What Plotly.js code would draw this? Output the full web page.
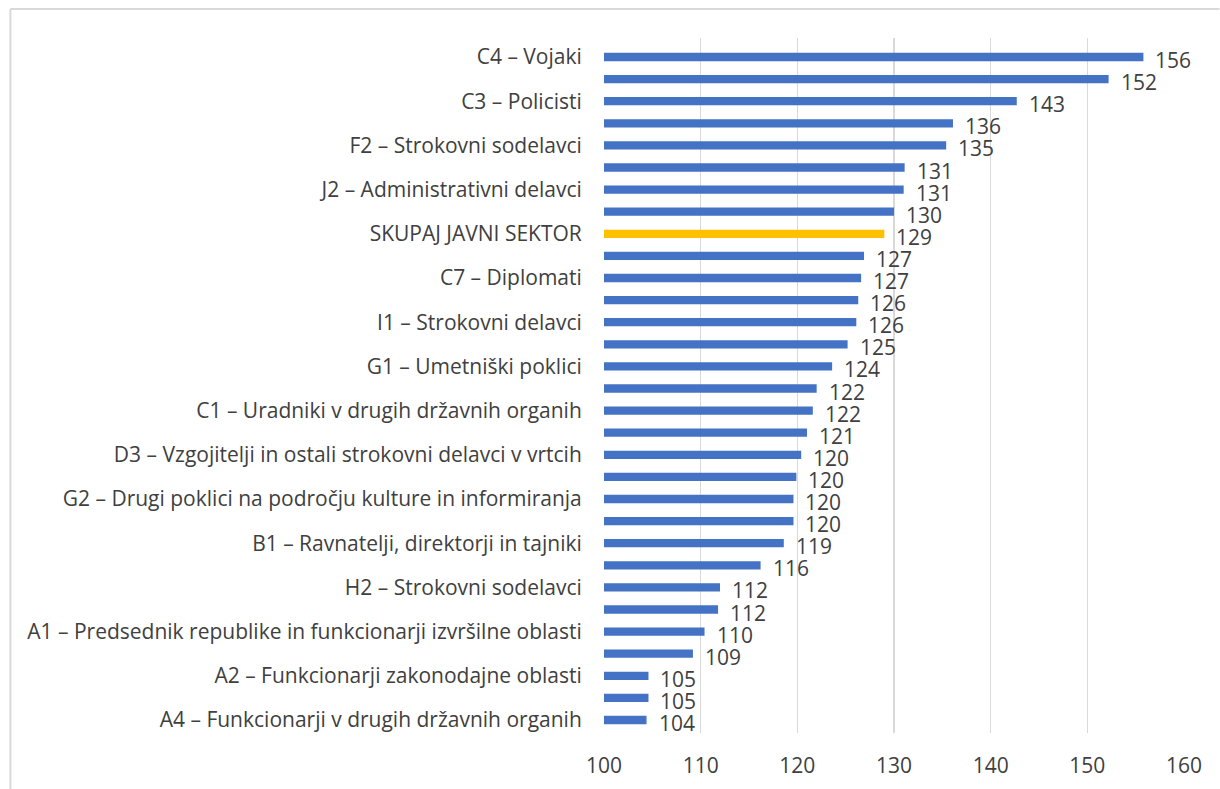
<!DOCTYPE html>
<html>
<head>
<meta charset="utf-8">
<script src="https://cdn.plot.ly/plotly-3.0.1.min.js"></script>
<style>html,body{margin:0;padding:0;background:#fff;}#chart{width:1220px;height:789px;}</style>
</head>
<body>
<div id="chart"></div>
<script>
// Categories, top to bottom (only every other one is labelled in the source)
const categories = [
  "C4 – Vojaki", "(2)",
  "C3 – Policisti", "(4)",
  "F2 – Strokovni sodelavci", "(6)",
  "J2 – Administrativni delavci", "(8)",
  "SKUPAJ JAVNI SEKTOR", "(10)",
  "C7 – Diplomati", "(12)",
  "I1 – Strokovni delavci", "(14)",
  "G1 – Umetniški poklici", "(16)",
  "C1 – Uradniki v drugih državnih organih", "(18)",
  "D3 – Vzgojitelji in ostali strokovni delavci v vrtcih", "(20)",
  "G2 – Drugi poklici na področju kulture in informiranja", "(22)",
  "B1 – Ravnatelji, direktorji in tajniki", "(24)",
  "H2 – Strokovni sodelavci", "(26)",
  "A1 – Predsednik republike in funkcionarji izvršilne oblasti", "(28)",
  "A2 – Funkcionarji zakonodajne oblasti", "(30)",
  "A4 – Funkcionarji v drugih državnih organih"
];
const values = [
  155.8, 152.2, 142.7, 136.1, 135.4, 131.1, 131.0, 130.0, 129.0, 126.9,
  126.6, 126.3, 126.1, 125.2, 123.6, 122.0, 121.6, 121.0, 120.4, 119.9,
  119.6, 119.6, 118.6, 116.2, 112.0, 111.8, 110.4, 109.2, 104.6, 104.6,
  104.4
];
const highlight = "SKUPAJ JAVNI SEKTOR";
const shownLabels = categories.filter((c, i) => i % 2 === 0);
const xTicks = [100, 110, 120, 130, 140, 150, 160];

const BLUE = "#4472C4", GOLD = "#FFC000", TXT = "#404040", GRID = "#D9D9D9";
const FONT = "'Open Sans', sans-serif";
const FS = 21;

const trace = {
  type: "bar",
  orientation: "h",
  y: categories,
  x: values,
  base: 0,
  marker: { color: categories.map(c => c === highlight ? GOLD : BLUE) },
  hoverinfo: "x+y",
  cliponaxis: false
};

const annotations = values.map((v, i) => ({
  x: v, y: categories[i], xref: "x", yref: "y",
  text: String(Math.round(v)),
  showarrow: false, xanchor: "left", yanchor: "middle",
  xshift: 10, yshift: -3,
  font: { family: FONT, size: FS, color: TXT }
}));

const L = 604, R = 1184.4, T = 38, B = 733;
const PW = R - L, PH = B - T;

const layout = {
  width: 1220, height: 789,
  margin: { l: L, r: 1220 - R, t: T, b: 789 - B },
  paper_bgcolor: "#fff", plot_bgcolor: "#fff",
  showlegend: false,
  bargap: 0.625,
  font: { family: FONT, size: FS, color: TXT },
  xaxis: {
    range: [100, 160],
    tickmode: "array", tickvals: xTicks,
    showgrid: true, gridcolor: GRID, gridwidth: 1.3,
    zeroline: false, showline: false,
    ticks: "outside", ticklen: 14, tickcolor: "rgba(0,0,0,0)",
    tickfont: { family: FONT, size: FS, color: TXT }
  },
  yaxis: {
    type: "category",
    categoryorder: "array", categoryarray: categories,
    autorange: "reversed",
    tickmode: "array", tickvals: shownLabels, ticktext: shownLabels,
    showgrid: false, zeroline: false, showline: false,
    ticks: "outside", ticklen: 17, tickcolor: "rgba(0,0,0,0)",
    tickfont: { family: FONT, size: FS, color: TXT }
  },
  annotations: annotations,
  shapes: [
    { type: "line", xref: "paper", yref: "paper",
      x0: (10 - L) / PW, x1: (1220 - L) / PW,
      y0: 1 + (T - 9) / PH, y1: 1 + (T - 9) / PH,
      line: { color: GRID, width: 2 } },
    { type: "line", xref: "paper", yref: "paper",
      x0: (10 - L) / PW, x1: (10 - L) / PW,
      y0: 1 + (T - 9) / PH, y1: (B - 800) / PH,
      line: { color: GRID, width: 2 } }
  ]
};

Plotly.newPlot("chart", [trace], layout, { displayModeBar: false, staticPlot: true });
</script>
</body>
</html>
